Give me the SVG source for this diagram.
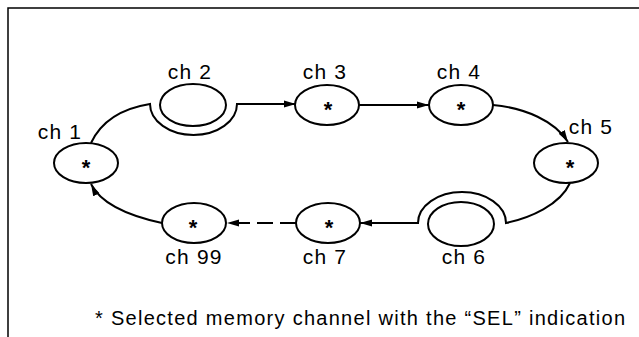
<svg xmlns="http://www.w3.org/2000/svg" width="639" height="337" viewBox="0 0 639 337">
<style>
.n{fill:#fff;stroke:#000;stroke-width:2}
.c{fill:none;stroke:#000;stroke-width:2}
.l{font-family:"Liberation Sans",Arial,sans-serif;font-size:21px;letter-spacing:1.2px;fill:#000;text-anchor:middle}
.s{font-family:"Liberation Sans",Arial,sans-serif;font-size:22px;font-weight:bold;fill:#000;text-anchor:middle}
.f{font-family:"Liberation Sans",Arial,sans-serif;font-size:20px;fill:#000}
</style>
<defs>
<marker id="a" viewBox="0 0 12 8" refX="12" refY="4" markerWidth="12" markerHeight="8" markerUnits="userSpaceOnUse" orient="auto">
<path d="M0,0.5 L12,4 L0,7.5 Z" fill="#000"/>
</marker>
</defs>
<rect width="639" height="337" fill="#fff"/>
<path d="M8,337 V8 H639" fill="none" stroke="#000" stroke-width="1.5"/>
<g id="connectors">
<path class="c" d="M91,143 Q106,111 150,104 A43.5 31 0 0 0 237,104 L296,104" marker-end="url(#a)"/>
<path class="c" d="M359,105 L429,105" marker-end="url(#a)"/>
<path class="c" d="M493,105 C525,108 555,121 568,142" marker-end="url(#a)"/>
<path class="c" d="M570,183 C560,205 530,218 506,223 A44 31 0 0 0 418,223 L360,223" marker-end="url(#a)"/>
<path class="c" d="M296,223 L227,223" stroke-dasharray="16,7" marker-end="url(#a)"/>
<path class="c" d="M162,223 C125,215 100,202 91,184" marker-end="url(#a)"/>
</g>
<g id="ch1"><ellipse class="n" cx="86" cy="163" rx="32" ry="20"/><text class="s" x="86" y="175">*</text><text class="l" x="60" y="139">ch 1</text></g>
<g id="ch2"><ellipse class="n" cx="193" cy="105" rx="33" ry="21"/><text class="l" x="190" y="79">ch 2</text></g>
<g id="ch3"><ellipse class="n" cx="327" cy="105" rx="32" ry="20"/><text class="s" x="328" y="117">*</text><text class="l" x="325" y="79">ch 3</text></g>
<g id="ch4"><ellipse class="n" cx="461" cy="105" rx="32" ry="20"/><text class="s" x="461" y="117">*</text><text class="l" x="459" y="79">ch 4</text></g>
<g id="ch5"><ellipse class="n" cx="566" cy="163" rx="32" ry="20"/><text class="s" x="570" y="175">*</text><text class="l" x="591" y="134">ch 5</text></g>
<g id="ch6"><ellipse class="n" cx="461" cy="224" rx="33" ry="22"/><text class="l" x="464" y="264">ch 6</text></g>
<g id="ch7"><ellipse class="n" cx="328" cy="223" rx="32" ry="20"/><text class="s" x="329" y="235">*</text><text class="l" x="325" y="264">ch 7</text></g>
<g id="ch99"><ellipse class="n" cx="194" cy="223" rx="32" ry="20"/><text class="s" x="193" y="235">*</text><text class="l" x="194" y="264">ch 99</text></g>
<text class="f" x="95" y="325" textLength="530" lengthAdjust="spacing">* Selected memory channel with the “SEL” indication</text>
</svg>
